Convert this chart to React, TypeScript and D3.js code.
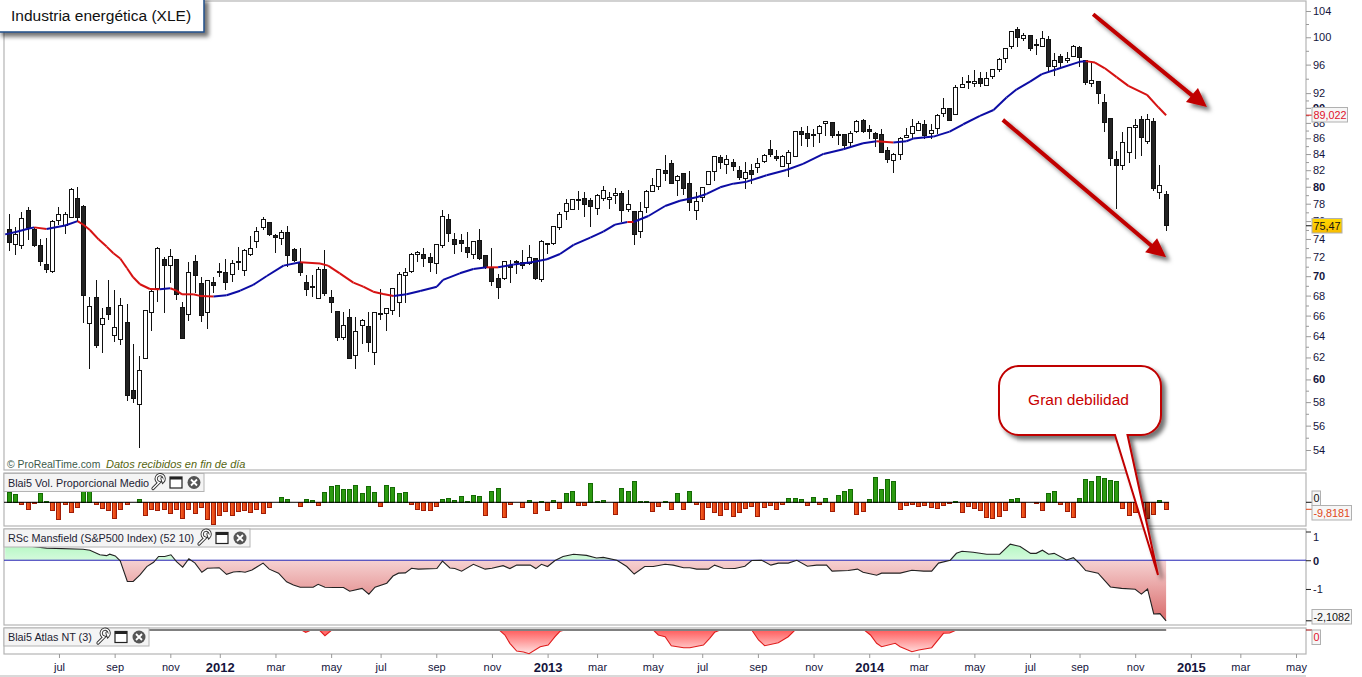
import React, { useEffect, useRef } from "react";
import * as d3 from "d3";

// Weekly candles of XLE (index 0 = first visible week)
const opens = [
  75.1, 73.4, 73.27, 77.27, 75.07, 73.3, 71.29, 70.58, 76.09, 75.56,
  76.43, 78.63, 77.74, 65.2, 67.83, 65.1, 66.82, 64.08, 63.7, 65.34,
  59.06, 57.78, 61.92, 66.32, 68.75, 71.77, 71.25, 71.77, 66.82, 66.12,
  71.58, 69.26, 66.32, 69.36, 70.51, 70.4, 70.19, 71.62, 70.62, 72.29,
  73.74, 75.25, 75.86, 74.4, 74.07, 74.73, 72.87, 71.4, 69.36, 68.95,
  67.73, 70.72, 67.83, 66.42, 63.89, 65.9, 62.2, 65.05, 64.95, 62.48,
  66.26, 66.22, 66.52, 67.32, 70.06, 70.51, 72.33, 72.33, 72.0, 71.36,
  73.3, 76.2, 73.96, 73.85, 73.08, 72.33, 73.85, 72.22, 70.93, 69.78,
  69.78, 71.15, 71.58, 71.47, 71.36, 71.9, 69.68, 73.52, 73.52, 75.3,
  77.12, 77.35, 78.5, 78.62, 78.4, 77.47, 78.62, 78.5, 78.99, 79.22,
  77.35, 77.12, 74.84, 77.58, 79.45, 80.05, 81.98, 82.85, 80.77, 81.62,
  80.41, 77.23, 78.75, 80.29, 81.86, 83.6, 82.72, 82.97, 81.98, 81.02,
  81.98, 82.35, 83.1, 84.6, 83.76, 82.47, 82.85, 83.72, 86.9, 86.64,
  86.51, 86.64, 87.95, 88.08, 86.51, 86.51, 85.49, 86.9, 88.34, 87.16,
  86.64, 86.51, 84.47, 83.22, 83.97, 86.13, 86.64, 87.03, 87.82, 86.64,
  87.29, 89.4, 89.94, 89.14, 92.8, 93.64, 93.36, 94.06, 93.08, 94.34,
  95.33, 96.92, 98.66, 101.19, 99.8, 100.3, 98.96, 98.61, 99.7, 95.76,
  97.2, 96.63, 97.2, 98.52, 96.63, 93.36, 93.64, 90.75, 88.61, 83.34,
  82.6, 84.22, 87.42, 88.48, 85.62, 88.22, 79.34, 79.1,
];
const highs = [
  76.8, 75.3, 77.0, 77.58, 75.37, 74.0, 74.07, 76.13, 77.58, 77.08,
  79.8, 79.93, 77.85, 67.83, 69.6, 66.72, 69.6, 68.57, 67.73, 67.12,
  63.26, 62.14, 66.55, 68.57, 73.08, 71.98, 72.9, 71.87, 67.35, 71.47,
  72.25, 69.88, 69.6, 69.95, 71.37, 71.87, 71.69, 73.08, 72.87, 74.33,
  75.29, 76.47, 75.94, 74.6, 74.99, 75.44, 72.97, 72.97, 70.12, 70.12,
  71.0, 72.79, 68.57, 66.48, 66.39, 66.62, 65.83, 65.63, 66.35, 66.39,
  68.64, 66.79, 68.81, 70.41, 70.83, 72.43, 72.72, 73.01, 72.43, 73.45,
  77.27, 76.81, 74.62, 74.55, 74.73, 73.78, 75.1, 72.22, 73.01, 70.2,
  71.61, 71.72, 71.72, 72.75, 73.3, 71.9, 73.85, 73.6, 75.41, 77.04,
  78.5, 78.5, 79.49, 79.38, 78.62, 79.1, 80.09, 79.38, 79.81, 79.45,
  79.61, 77.12, 78.2, 79.57, 81.05, 82.14, 83.89, 83.27, 81.38, 81.62,
  81.86, 79.34, 79.93, 81.86, 83.76, 83.85, 83.85, 83.35, 82.47, 82.97,
  82.72, 83.47, 83.97, 85.75, 84.51, 83.89, 84.47, 86.94, 87.51, 87.55,
  87.16, 87.69, 88.26, 88.13, 86.98, 86.6, 86.9, 88.39, 88.47, 87.69,
  86.77, 87.16, 84.89, 84.1, 86.13, 87.29, 88.47, 88.21, 88.34, 87.82,
  89.14, 91.32, 90.03, 93.08, 94.2, 94.48, 95.23, 94.9, 94.9, 95.33,
  96.92, 98.37, 100.89, 101.5, 100.6, 100.3, 99.7, 100.89, 100.15, 97.64,
  97.54, 97.83, 98.81, 98.66, 96.63, 96.19, 93.64, 91.84, 88.7, 84.34,
  86.77, 87.51, 88.48, 88.92, 89.14, 88.61, 82.64, 79.45,
];
const lows = [
  72.7, 72.2, 72.9, 73.89, 73.16, 71.08, 70.37, 70.37, 75.56, 74.51,
  76.32, 75.94, 65.3, 60.97, 62.91, 62.44, 65.57, 63.48, 63.17, 58.13,
  57.9, 54.2, 61.89, 64.5, 67.4, 66.29, 69.28, 67.55, 63.73, 65.5,
  68.22, 65.41, 64.72, 68.22, 69.95, 68.57, 69.43, 70.65, 70.05, 72.18,
  72.97, 74.99, 74.33, 72.5, 73.34, 71.0, 71.54, 70.05, 67.97, 67.83,
  67.63, 67.97, 66.29, 63.58, 63.64, 61.89, 60.97, 63.26, 62.54, 61.34,
  65.57, 64.53, 66.06, 65.9, 67.22, 70.37, 71.51, 71.0, 70.48, 70.24,
  73.05, 73.67, 72.36, 72.58, 71.93, 71.83, 71.72, 70.72, 69.02, 67.69,
  69.64, 69.33, 70.24, 70.76, 71.18, 69.64, 69.43, 72.36, 73.34, 74.99,
  76.17, 77.27, 77.27, 76.51, 75.37, 76.74, 78.32, 77.35, 77.97, 75.86,
  77.08, 73.38, 74.15, 76.89, 79.34, 79.65, 80.73, 80.37, 78.94, 79.06,
  77.19, 76.1, 78.24, 80.25, 80.73, 82.14, 81.58, 81.94, 80.81, 79.77,
  80.29, 81.62, 82.93, 83.68, 83.18, 82.35, 81.22, 83.6, 85.02, 84.85,
  84.93, 85.36, 86.34, 86.09, 85.1, 84.6, 84.76, 86.64, 86.64, 85.96,
  84.93, 84.18, 82.93, 81.7, 83.22, 86.0, 85.87, 86.9, 85.87, 85.87,
  86.55, 88.74, 88.21, 89.05, 92.66, 92.52, 92.8, 92.89, 93.03, 94.01,
  94.9, 96.2, 98.22, 98.61, 99.51, 98.02, 97.4, 98.52, 94.95, 94.39,
  95.62, 96.19, 97.06, 95.71, 93.17, 92.89, 90.48, 86.77, 82.56, 77.43,
  82.02, 82.85, 83.43, 83.8, 85.24, 79.45, 78.6, 74.92,
];
const closes = [
  73.7, 74.5, 76.32, 75.29, 73.27, 71.54, 70.79, 76.0, 76.77, 76.77,
  79.69, 76.4, 68.02, 66.92, 63.1, 65.73, 66.12, 64.85, 67.02, 58.57,
  58.39, 60.82, 66.52, 68.43, 72.97, 71.09, 72.18, 68.08, 63.8, 70.4,
  70.05, 66.0, 69.57, 69.02, 70.37, 69.36, 71.37, 71.47, 72.75, 72.97,
  74.84, 76.2, 74.55, 74.14, 74.73, 72.22, 71.65, 70.4, 68.64, 68.85,
  70.72, 68.22, 67.29, 63.9, 65.05, 61.98, 64.46, 65.53, 63.39, 66.32,
  66.19, 66.72, 68.74, 70.2, 70.41, 72.33, 72.54, 71.86, 71.44, 73.41,
  76.55, 74.62, 73.41, 73.49, 72.54, 73.74, 71.9, 70.93, 69.47, 68.81,
  71.58, 70.93, 71.44, 71.15, 72.0, 69.78, 73.74, 73.41, 75.41, 76.78,
  78.05, 78.5, 78.35, 77.93, 77.7, 78.99, 79.57, 78.75, 79.22, 77.23,
  77.93, 74.52, 77.12, 79.45, 80.17, 82.1, 81.62, 80.41, 81.26, 79.81,
  78.17, 78.28, 79.93, 81.86, 83.72, 82.97, 83.35, 82.47, 81.14, 81.74,
  81.5, 82.85, 83.85, 83.97, 83.47, 83.72, 84.22, 86.9, 86.51, 86.0,
  86.39, 87.55, 88.21, 86.39, 86.34, 85.1, 86.64, 88.21, 86.9, 86.9,
  86.0, 84.22, 83.35, 83.97, 86.0, 86.39, 87.55, 87.95, 86.39, 87.03,
  89.0, 90.03, 88.34, 92.8, 93.22, 93.5, 93.64, 93.36, 94.06, 95.33,
  96.77, 98.37, 100.89, 100.0, 100.3, 98.37, 98.81, 99.85, 95.76, 96.63,
  96.33, 96.92, 98.66, 97.06, 93.5, 93.78, 91.98, 88.09, 83.47, 82.6,
  85.49, 87.42, 87.69, 86.13, 88.48, 79.81, 80.17, 75.47,
];

// Moving average, read at irregular weeks
const maWeek = [
  -0.7, 1, 3, 4, 6, 9, 11, 12, 13, 14.4, 15.7, 16.8, 17.9, 19, 20, 21.1, 22.7, 24.3, 26, 27, 27.9,
  29.7, 30.8, 33, 35.1, 37.3, 39.4, 41.6, 44.3, 47, 50.2, 51.5, 53.4, 55.6, 57.2, 58.8, 60.4, 62.1,
  64.2, 66.4, 69.1, 70.1, 72.8, 75, 77.15, 79, 81.5, 84.4, 86.9, 89, 91.2, 93.9, 96, 97.9, 99.9, 100.9,
  103.3, 106, 108.4, 111.1, 112.7, 114.9, 117, 119.2, 122.4, 125.6, 128.3, 131.6, 134.8, 138, 140.2,
  142.9, 145, 146.1, 149.4, 152, 154.2, 156.9, 159.1, 161.2, 162.85, 165, 166.9, 169.3, 173, 174,
  175.5, 177.1, 179, 180.9, 183.9, 185.75, 187,
];
const maValue = [
  74.51, 74.77, 75.14, 75.29, 75.1, 75.5, 76.0, 75.56, 74.99, 73.96, 73.16, 72.43, 71.87, 70.83, 69.88, 69.16, 68.67, 68.64, 68.75, 68.5, 68.13,
  68.13, 67.97, 67.9, 68.03, 68.5, 69.09, 70.02, 71.11, 71.47, 71.33, 71.11, 70.3, 69.33, 68.91, 68.4, 68.17, 67.96,
  68.13, 68.47, 68.91, 69.61, 70.3, 70.76, 70.93, 70.93, 71.22, 71.47, 71.79, 72.36, 73.34, 74.15, 74.81, 75.6, 75.9, 75.9,
  76.58, 77.73, 78.35, 78.75, 79.14, 79.93, 80.37, 80.61, 81.38, 82.02, 82.77, 84.01, 84.6, 85.36, 85.62,
  85.45, 85.62, 85.96, 86.22, 86.86, 87.82, 88.92, 89.71, 91.39, 92.52, 93.59, 94.65, 95.33, 96.4, 96.5,
  96.3, 95.47, 94.23, 93.0, 91.77, 90.07, 89.02,
];

const volume = [
  15, 11.2, -2.8, -9.8, -1.4, 12.6, 1.4, -11.2, -23.8, -1.9,
  -14, -6.1, 17, 17, -2.8, -8.4, -10.7, -22.4, -9.8, -2.8,
  0, 4.2, -18.2, -9.8, -11.2, -9.8, -15.4, -9.8, -22.4, -9.8,
  -15.4, -7, -23.8, -30.8, -18.2, -12.6, -18.2, -12.6, -11.2, -14,
  -9.8, -15.4, -7, 0, 7, 4.2, 0, -5.6, 4.2, 2.8,
  -4.2, 14, 22.4, 23.8, 18.2, 18.2, 23.8, 12.6, 22.4, 14,
  -5.6, 23.8, 21, 12.6, 14, -1.9, -9.8, -11.2, -11.2, -5.6,
  4.2, 5.6, 2.8, 8.4, 1.4, 9.8, 8.4, -17.3, 15.4, 19.6,
  -20, -1.9, 0, -6.1, 2.8, -14.5, 1.4, -10.3, 2.8, -7.5,
  12.6, 15.4, -3.3, -3.3, 26.6, 1.4, 2.8, 0, -15.9, 19.6,
  15.4, 29.4, 1.4, 1.4, -11.7, -4.7, 1.4, -8.9, 12.6, -8.9,
  15.4, -1.9, -22.9, -6.1, -13, -17.3, -8.9, -18.7, -13, -7.5,
  -4.7, -18.7, -6.1, -3.3, -8.9, -1.9, 5.6, 5.6, 4.2, -3.3,
  7, -1.9, 5.6, -11.7, 9.8, 15.4, 18.2, -15.9, -11.7, 4.2,
  35, 18.2, 32.2, 29.4, -9.8, -4.2, -1.9, -5.6, -4.2, -7,
  -8.4, -4.2, -1.4, 1.4, -14, -5.6, -8.4, -11.2, -21, -22.4,
  -19.6, -11.2, 4.2, 5.6, -21, 0, -1.4, -11.2, 12.6, 15.4,
  -2.8, -12.6, -21, 5.6, 32.2, 29.4, 36.4, 33.6, 30.8, 29.4,
  -8.4, -18.2, -14, -10, -22.4, -16.8, 2.8, -9.8,
];

const rscWeek = [
  -0.7, 3, 6, 11.9, 13, 14.6, 15.7, 16.2, 17.1, 17.9, 19.05, 20, 21.1, 22.2, 23.3, 24.1, 25.1, 26.1, 27, 28,
  29, 30, 31.1, 32, 33, 33.9, 35.1, 36.2, 37.2, 38.1, 39.2, 41, 42, 43.5, 44.8, 45.9, 47, 49.1, 49.9, 51,
  52.4, 54, 55, 57, 58.1, 59.1, 61, 62, 62.9, 64, 65, 66.1, 69.1, 70, 71.2, 72, 73.1, 75, 76.9, 78,
  79.8, 80.9, 82, 84.2, 85.1, 86, 87, 88.2, 89.5, 91.2, 93.3, 94.9, 96, 98.2, 99.8, 101, 102.7, 104.1, 106, 107.3,
  109, 110, 111.1, 113, 114, 115.4, 117.3, 118.9, 120, 121.6, 123.1, 124.3, 125.9, 127.3, 129, 130.5, 132.1, 133, 135.6, 137.1,
  138, 140.2, 141, 144, 145.9, 147.8, 149.1, 150.2, 152.1, 153.1, 154, 155.8, 158, 160.1, 161.8, 163.4, 165.1, 166, 167, 168,
  168.9, 170.9, 172, 172.8, 174, 176, 178, 179.8, 182, 183, 184, 185, 186, 187,
];
const rscValue = [
  0.53, 0.5, 0.42, 0.38, 0.35, 0.19, 0.16, 0.21, 0.15, -0.02, -0.74, -0.74, -0.51, -0.22, -0.07, 0.13, 0.13, 0.19, -0.05, -0.24,
  0.05, -0.1, -0.42, -0.28, -0.27, -0.26, -0.49, -0.41, -0.39, -0.42, -0.34, -0.1, -0.31, -0.45, -0.75, -0.86, -0.94, -0.94, -0.84, -0.94,
  -0.95, -0.95, -1.08, -0.98, -1.18, -0.94, -0.8, -0.55, -0.45, -0.44, -0.28, -0.31, -0.29, -0.03, -0.27, -0.29, -0.38, -0.14, -0.31, -0.28,
  -0.19, -0.29, -0.17, -0.17, -0.29, -0.14, -0.22, -0.01, 0.13, 0.21, 0.17, 0.08, 0.1, 0, -0.22, -0.48, -0.22, -0.22, -0.14, -0.17,
  -0.26, -0.26, -0.31, -0.31, -0.17, -0.28, -0.29, -0.21, -0.01, 0, -0.17, -0.1, -0.1, 0, -0.21, -0.17, -0.17, -0.38, -0.36, -0.31,
  -0.42, -0.52, -0.45, -0.45, -0.35, -0.38, -0.38, -0.1, 0, 0.24, 0.31, 0.28, 0.21, 0.21, 0.56, 0.48, 0.24, 0.24, 0.35, 0.21,
  0.24, 0.01, 0.09, -0.07, -0.36, -0.45, -0.93, -0.98, -1.01, -1.18, -1.0, -1.87, -1.86, -2.1082,
];

const atlasWeek = [
  0, 47.2, 47.9, 48.8, 50.1, 51, 52.1, 79.2, 80.1, 80.9, 82, 83.1, 84, 85.8, 87.1, 88.2, 89, 89.8,
  104.1, 104.9, 106, 107, 109, 110, 112.2, 113.2, 114, 114.9, 120, 121.1, 122.1, 124.3, 125.9, 127,
  138.2, 139.2, 140.2, 141, 143.2, 144, 145.9, 147, 149.1, 151, 152, 153.1, 187,
];
const atlasValue = [
  0, 0, -2.3, 0, 0, -5.7, 0, 0, -5, -13.3, -21, -22, -23.7, -16.7, -15, -6.7, -1.3, 0,
  0, -5, -6.7, -15.7, -17.7, -17.7, -15, -8.3, -2.3, 0, 0, -10, -15.7, -12.7, -6.7, 0,
  0, -5, -13.3, -16.7, -13.3, -16.7, -21.7, -20, -17.7, -3.3, -3, 0, 0,
];

const timeTickWeeks = [8, 17, 26, 34, 43, 52, 60, 69, 78, 87, 95, 104, 112, 121, 130, 139, 147, 156, 165, 173, 182, 191, 199, 208];
const timeTickLabels = ["jul", "sep", "nov", "2012", "mar", "may", "jul", "sep", "nov", "2013", "mar", "may", "jul", "sep", "nov", "2014", "mar", "may", "jul", "sep", "nov", "2015", "mar", "may"];
const priceLabels = [104, 100, 96, 92, 90, 88, 86, 84, 82, 80, 78, 76, 74, 72, 70, 68, 66, 64, 62, 60, 58, 56, 54];
const priceMinor = [102, 98, 94, 91, 89, 87, 85, 83, 81, 79, 77, 75, 73, 71, 69, 67, 65, 63, 61, 59, 57, 55];
const boldPrices = [90, 80, 70, 60];
const rscTicks = [1, 0, -1];

// Hand-drawn arrows on the price chart: [week, price] of tail and tip
const arrowsDrawn = [
  [175.2, 103.5, 193.6, 90.1],
  [160.6, 88.4, 187, 72.0],
];

const FONT = "'Liberation Sans', Arial, sans-serif";
const width = 1362;
const height = 677;
const left = 4;
const right = 1306;

const App: React.FC = () => {
  const svgRef = useRef<SVGSVGElement | null>(null);

  useEffect(() => {
    if (!svgRef.current) return;
    const svg = d3.select(svgRef.current);
    svg.selectAll("*").remove();
    svg.attr("font-family", FONT);

    const x = d3.scaleLinear().domain([0, 208]).range([9.5, 1296]);
    const y = d3.scaleLog().domain([54, 104]).range([450, 11]);
    const yVol = d3.scaleLinear().domain([-33.2, 41]).range([526, 473]);
    const yRsc = d3.scaleLinear().domain([-2.1082, 1]).range([620.8, 531.5]);
    const yAtlas = d3.scaleLinear().domain([-24, 0]).range([654, 630]);

    const defs = svg.append("defs");
    const shadow = defs.append("filter").attr("id", "shadow")
      .attr("x", "-20%").attr("y", "-20%").attr("width", "150%").attr("height", "150%");
    shadow.append("feDropShadow").attr("dx", 4).attr("dy", 4).attr("stdDeviation", 2)
      .attr("flood-color", "#000").attr("flood-opacity", 0.55);

    const gradient = (id: string, stops: [number, string][], x1: number, y1: number, x2: number, y2: number, units = "userSpaceOnUse") => {
      const g = defs.append("linearGradient").attr("id", id).attr("gradientUnits", units)
        .attr("x1", x1).attr("y1", y1).attr("x2", x2).attr("y2", y2);
      stops.forEach(([o, c]) => g.append("stop").attr("offset", o).attr("stop-color", c));
    };
    gradient("rscRed", [[0, "#f6d2d2"], [1, "#d96a6a"]], 0, 560, 0, 621);
    gradient("rscGreen", [[0, "#a2f5b4"], [1, "#d4fadc"]], 0, 535, 0, 560);
    gradient("atlasRed", [[0, "#ff5c5c"], [1, "#ffe6e6"]], 0, 630, 0, 654);
    gradient("barRed", [[0, "#fb6a2a"], [1, "#d83208"]], 0, 0, 1, 0, "objectBoundingBox");
    gradient("gold", [[0, "#ffd800"], [1, "#f8bc00"]], 0, 0, 0, 1, "objectBoundingBox");

    defs.append("clipPath").attr("id", "aboveZero").append("rect")
      .attr("x", left).attr("y", 529).attr("width", right - left).attr("height", yRsc(0) - 529);
    defs.append("clipPath").attr("id", "belowZero").append("rect")
      .attr("x", left).attr("y", yRsc(0)).attr("width", right - left).attr("height", 625 - yRsc(0));

    // Panel frames
    const frames = [[1, 470], [473, 526], [529, 625], [628, 654]];
    svg.append("g").selectAll("rect").data(frames).join("rect")
      .attr("x", left).attr("y", (d) => d[0]).attr("width", right - left).attr("height", (d) => d[1] - d[0])
      .attr("fill", "#fff").attr("stroke", "#b4b4b4").attr("stroke-width", 1.2);
    svg.append("line").attr("x1", 0).attr("x2", right).attr("y1", 676).attr("y2", 676)
      .attr("stroke", "#b4b4b4").attr("stroke-width", 1.2);

    // Candles
    const weeks = d3.range(opens.length);
    const px = (i: number) => Math.round(x(i) - 2.5) + 0.5;
    const candles = svg.append("g").selectAll("g").data(weeks).join("g").attr("shape-rendering", "crispEdges");
    candles.append("line")
      .attr("x1", (i) => px(i) + 2).attr("x2", (i) => px(i) + 2)
      .attr("y1", (i) => y(highs[i])).attr("y2", (i) => y(lows[i]))
      .attr("stroke", "#111");
    candles.append("rect")
      .attr("x", px).attr("width", 4)
      .attr("y", (i) => Math.round(y(Math.max(opens[i], closes[i]))) + 0.5)
      .attr("height", (i) => Math.max(1, Math.round(y(Math.min(opens[i], closes[i])) - y(Math.max(opens[i], closes[i])))))
      .attr("fill", (i) => (closes[i] >= opens[i] ? "#fff" : "#222"))
      .attr("stroke", "#111");

    // Moving average, blue when rising, red when falling
    const maLine = d3.line<number>().x((i) => x(maWeek[i])).y((i) => y(maValue[i]));
    svg.append("g").attr("fill", "none").attr("stroke-width", 2).attr("stroke-linejoin", "round")
      .selectAll("path").data(d3.range(maWeek.length - 1)).join("path")
      .attr("d", (i) => maLine([i, i + 1]))
      .attr("stroke", (i) => (maValue[i + 1] > maValue[i] ? "#0c0ca4" : "#d61212"));

    // Arrows
    const arrowG = svg.append("g").attr("filter", "url(#shadow)");
    arrowsDrawn.forEach(([w0, p0, w1, p1]) => {
      const tx = x(w1);
      const ty = y(p1);
      arrowG.append("line").attr("x1", x(w0)).attr("y1", y(p0)).attr("x2", tx - 14).attr("y2", ty - 11)
        .attr("stroke", "#c00000").attr("stroke-width", 4);
      arrowG.append("path")
        .attr("d", `M${tx},${ty}L${tx - 9},${ty - 19}L${tx - 15},${ty - 12}L${tx - 21},${ty - 5}Z`)
        .attr("fill", "#c00000");
    });

    // Copyright line
    const credit = svg.append("text").attr("x", 7).attr("y", 468);
    credit.append("tspan").attr("font-size", 10.4).attr("fill", "#3c5a4a").text("© ProRealTime.com");
    credit.append("tspan").attr("x", 106).attr("font-size", 11).attr("fill", "#55650f").attr("font-style", "italic").text("Datos recibidos en fin de día");

    // Volume panel
    const barH = (v: number) => Math.abs(Math.round(yVol(v)) - Math.round(yVol(0)));
    svg.append("g").attr("shape-rendering", "crispEdges").selectAll("rect")
      .data(weeks.filter((i) => volume[i] !== 0)).join("rect")
      .attr("x", px).attr("width", 4)
      .attr("y", (i) => (volume[i] > 0 ? Math.round(yVol(0)) - barH(volume[i]) : Math.round(yVol(0))) + 0.5)
      .attr("height", (i) => barH(volume[i]))
      .attr("fill", (i) => (volume[i] > 0 ? "#2c9a10" : "url(#barRed)"))
      .attr("stroke", (i) => (volume[i] > 0 ? "#146a04" : "#a01c06"));
    svg.append("line").attr("x1", left).attr("x2", x(187) + 3).attr("y1", yVol(0)).attr("y2", yVol(0))
      .attr("stroke", "#000").attr("stroke-width", 1);

    // Mansfield panel
    const rsc = rscWeek.map((w, i) => [w, rscValue[i]]);
    const rscArea = d3.area<number[]>().x((d) => x(d[0])).y0(yRsc(0)).y1((d) => yRsc(d[1]));
    svg.append("path").attr("d", rscArea(rsc)).attr("fill", "url(#rscGreen)").attr("clip-path", "url(#aboveZero)");
    svg.append("path").attr("d", rscArea(rsc)).attr("fill", "url(#rscRed)").attr("clip-path", "url(#belowZero)");
    svg.append("line").attr("x1", left).attr("x2", right).attr("y1", yRsc(0)).attr("y2", yRsc(0))
      .attr("stroke", "#2222b4").attr("stroke-width", 1);
    svg.append("path").attr("d", d3.line<number[]>().x((d) => x(d[0])).y((d) => yRsc(d[1]))(rsc))
      .attr("fill", "none").attr("stroke", "#222").attr("stroke-width", 1.1);

    // Atlas panel
    const atlas = atlasWeek.map((w, i) => [w, atlasValue[i]]);
    svg.append("path").attr("d", d3.area<number[]>().x((d) => x(d[0])).y0(yAtlas(0)).y1((d) => yAtlas(d[1]))(atlas))
      .attr("fill", "url(#atlasRed)");
    svg.append("path").attr("d", d3.line<number[]>().x((d) => x(d[0])).y((d) => yAtlas(d[1]))(atlas))
      .attr("fill", "none").attr("stroke", "#e01c1c").attr("stroke-width", 1.1);
    svg.append("line").attr("x1", left).attr("x2", x(187)).attr("y1", yAtlas(0)).attr("y2", yAtlas(0))
      .attr("stroke", "#808080").attr("stroke-width", 1.8);

    // Price axis
    const priceAxis = svg.append("g").attr("transform", `translate(${right},0)`)
      .call(d3.axisRight(y).tickValues(priceLabels).tickSize(5).tickPadding(2).tickFormat((d) => String(d)));
    priceAxis.select(".domain").remove();
    priceAxis.selectAll<SVGTextElement, number>("text")
      .attr("font-family", FONT).attr("font-size", 11).attr("fill", "#14143c")
      .attr("font-weight", (d) => (boldPrices.includes(d) ? "bold" : "normal"));
    priceAxis.selectAll("line").attr("stroke", "#999");
    const priceMinorAxis = svg.append("g").attr("transform", `translate(${right},0)`)
      .call(d3.axisRight(y).tickValues(priceMinor).tickSize(3).tickFormat(() => ""));
    priceMinorAxis.select(".domain").remove();
    priceMinorAxis.selectAll("line").attr("stroke", "#999");

    // Mansfield axis
    const rscAxis = svg.append("g").attr("transform", `translate(${right},0)`)
      .call(d3.axisRight(yRsc).tickValues(rscTicks).tickSize(5).tickPadding(2).tickFormat((d) => String(d)));
    rscAxis.select(".domain").remove();
    rscAxis.selectAll("line").attr("stroke", "#222");
    rscAxis.selectAll<SVGTextElement, number>("text")
      .attr("font-family", FONT).attr("font-size", 11).attr("fill", "#14143c")
      .attr("font-weight", (d) => (d === 0 ? "bold" : "normal"))
      .attr("dy", (d) => (d === 1 ? 8.5 : 4));

    // Time axis
    const timeAxis = svg.append("g").attr("transform", `translate(0,654)`)
      .call(d3.axisBottom(x).tickValues(timeTickWeeks).tickSize(4).tickPadding(3)
        .tickFormat((_, i) => timeTickLabels[i]));
    timeAxis.select(".domain").remove();
    timeAxis.selectAll("line").attr("stroke", "#999");
    timeAxis.selectAll<SVGTextElement, number>("text")
      .attr("font-family", FONT).attr("fill", "#14143c")
      .each(function (_, i) {
        const isYear = /^\d/.test(timeTickLabels[i]);
        d3.select(this).attr("font-size", isYear ? 13 : 11).attr("font-weight", isYear ? "bold" : "normal")
          .attr("y", isYear ? 8.5 : 9);
      });

    // Last value boxes
    const valueBox = (by: number, bw: number, tickY: number, label: string, fill: string, color: string, tickColor: string) => {
      svg.append("line").attr("x1", right).attr("x2", right + 6).attr("y1", tickY).attr("y2", tickY).attr("stroke", tickColor);
      svg.append("rect").attr("x", 1312).attr("y", by).attr("width", bw).attr("height", 14.5)
        .attr("fill", fill).attr("stroke", "#b0b0b0").attr("stroke-width", 1);
      svg.append("text").attr("x", 1313.5).attr("y", by + 11.2).attr("font-size", 10.8).attr("fill", color).text(label);
    };
    valueBox(107.5, 35.5, y(89.022), "89,022", "#f6f6f6", "#e0102a", "#d61212");
    valueBox(218.5, 30, y(75.47), "75,47", "url(#gold)", "#111", "#111");
    valueBox(491, 8.5, yVol(0), "0", "#f6f6f6", "#111", "#111");
    valueBox(505.5, 39.5, yVol(-9.8181), "-9,8181", "#f6f6f6", "#e04818", "#e04818");
    valueBox(609.5, 39.5, yRsc(-2.1082), "-2,1082", "#f6f6f6", "#111", "#111");
    valueBox(630, 8.5, yAtlas(0), "0", "#f6f6f6", "#e0102a", "#a00000");

    // Indicator legends
    const legend = (by: number, bw: number, label: string, textW: number) => {
      const g = svg.append("g");
      g.append("rect").attr("x", left).attr("y", by).attr("width", bw - left).attr("height", 18)
        .attr("fill", "#f4f4f4").attr("stroke", "#b4b4b4").attr("stroke-width", 1);
      g.append("text").attr("x", 8).attr("y", by + 13).attr("font-size", 10.8).attr("fill", "#1c2233").text(label);
      const ix = 8 + textW + 5;
      const cy = by + 9;
      const wrench = g.append("g").attr("fill", "none").attr("stroke-linecap", "round");
      const wrenchPath = `M${ix + 1},${cy + 6}L${ix + 7},${cy}A4,4 0 1 1 ${ix + 11},${cy - 1}L${ix + 10},${cy - 4}`;
      wrench.append("path").attr("d", wrenchPath).attr("stroke", "#333").attr("stroke-width", 3.2);
      wrench.append("path").attr("d", wrenchPath).attr("stroke", "#fff").attr("stroke-width", 1.4);
      g.append("rect").attr("x", ix + 18).attr("y", cy - 5.5).attr("width", 12).attr("height", 11)
        .attr("fill", "#fff").attr("stroke", "#222").attr("stroke-width", 1.2);
      g.append("rect").attr("x", ix + 18).attr("y", cy - 5.5).attr("width", 12).attr("height", 2.5).attr("fill", "#222");
      g.append("circle").attr("cx", ix + 42).attr("cy", cy).attr("r", 6.5).attr("fill", "#555");
      g.append("path").attr("d", `M${ix + 39},${cy - 3}L${ix + 45},${cy + 3}M${ix + 45},${cy - 3}L${ix + 39},${cy + 3}`)
        .attr("stroke", "#fff").attr("stroke-width", 1.8);
    };
    legend(473.5, 204, "Blai5 Vol. Proporcional Medio", 139);
    legend(529, 250, "RSc Mansfield (S&P500 Index) (52 10)", 185);
    legend(628, 149, "Blai5 Atlas NT (3)", 84);

    // Title box
    const title = svg.append("g");
    title.append("rect").attr("x", -2).attr("y", -2).attr("width", 206).attr("height", 34)
      .attr("fill", "#fff").attr("stroke", "#1f4e86").attr("stroke-width", 1.5).attr("filter", "url(#shadow)");
    title.append("text").attr("x", 11).attr("y", 21).attr("font-size", 15.5).attr("fill", "#111").text("Industria energética (XLE)");

    // Callout
    const call = d3.path();
    call.moveTo(1019, 366);
    call.lineTo(1141, 366);
    call.arcTo(1161, 366, 1161, 386, 20);
    call.lineTo(1161, 415);
    call.arcTo(1161, 435, 1141, 435, 20);
    call.lineTo(1127.5, 435);
    call.lineTo(1158, 575);
    call.lineTo(1115, 435);
    call.lineTo(1019, 435);
    call.arcTo(999, 435, 999, 415, 20);
    call.lineTo(999, 386);
    call.arcTo(999, 366, 1019, 366, 20);
    call.closePath();
    svg.append("path").attr("d", call.toString()).attr("fill", "#fff").attr("stroke", "#c00000")
      .attr("stroke-width", 2).attr("filter", "url(#shadow)");
    svg.append("text").attr("x", 1078.5).attr("y", 405).attr("text-anchor", "middle").attr("font-size", 15.5)
      .attr("fill", "#c80000").text("Gran debilidad");

    return () => {
      svg.selectAll("*").remove();
    };
  }, []);

  return <svg ref={svgRef} width={width} height={height} style={{ position: "absolute", left: 0, top: 0 }} />;
};

export default App;
